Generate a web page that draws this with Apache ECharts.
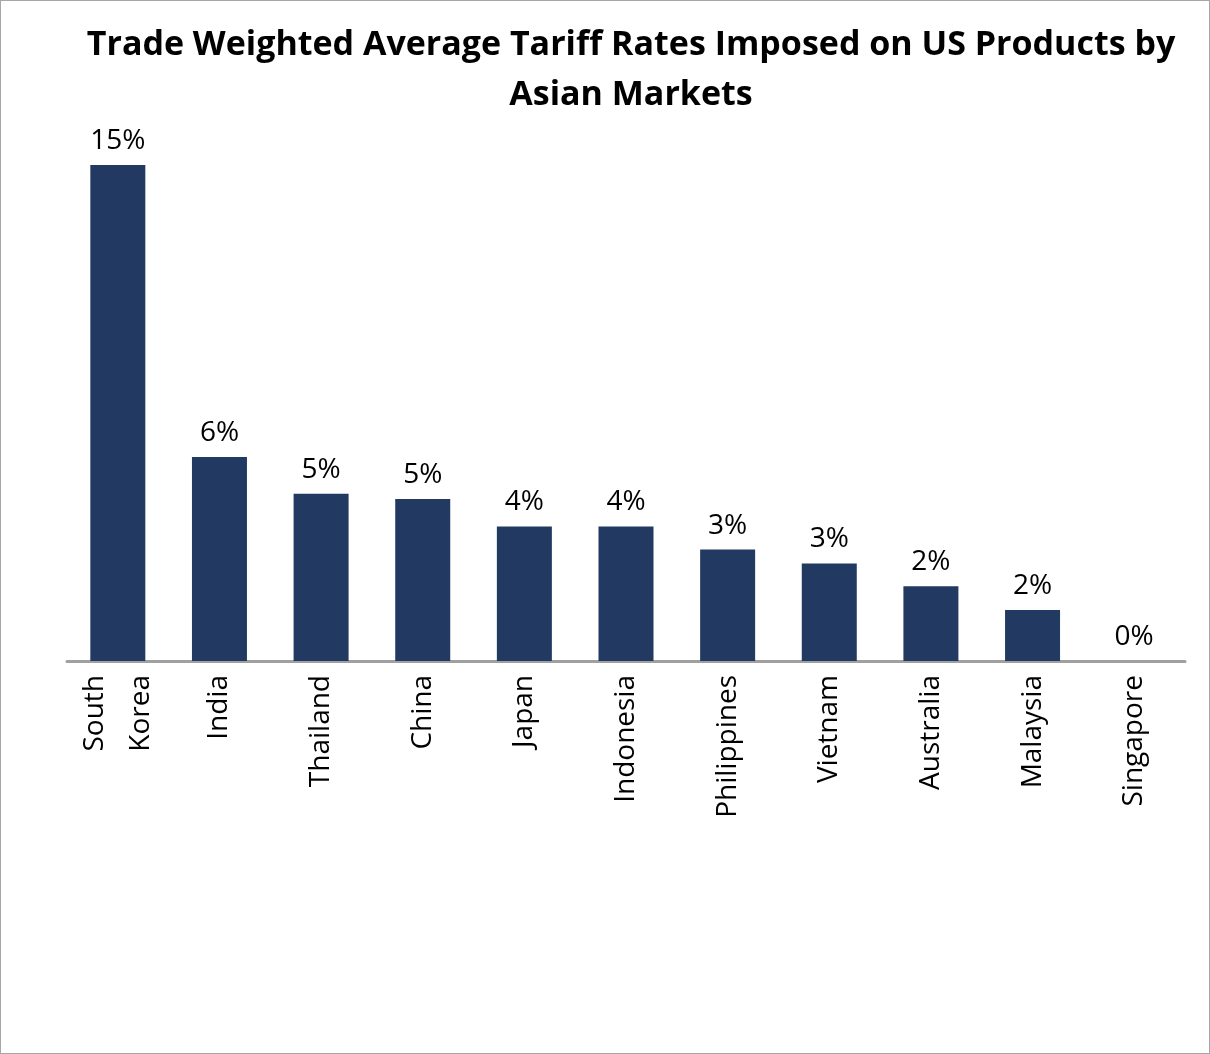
<!DOCTYPE html>
<html><head><meta charset="utf-8">
<script src="https://cdn.jsdelivr.net/npm/echarts@6/dist/echarts.min.js"></script>
<style>html,body{margin:0;padding:0;background:#fff}#c{width:1210px;height:1054px;box-sizing:border-box;border:1.5px solid #a6a6a6}</style>
</head><body><div id="c"></div>
<script>
const categories = ["South\nKorea","India","Thailand","China","Japan","Indonesia","Philippines","Vietnam","Australia","Malaysia","Singapore"];
const values = [15, 6.17, 5.06, 4.9, 4.07, 4.07, 3.37, 2.95, 2.26, 1.54, 0];
const chart = echarts.init(document.getElementById('c'));
chart.setOption({
  title: {text: "Trade Weighted Average Tariff Rates Imposed on US Products by\nAsian Markets", left: 625, textAlign: 'center', top: 14,
    textStyle: {fontFamily: 'Open Sans', fontWeight: 'bold', fontSize: 34, lineHeight: 50, color: '#000'}},
  grid: {left: 66, right: 24, top: 164, bottom: 392},
  xAxis: {type: 'category', data: categories,
    axisLine: {lineStyle: {color: '#a0a0a0', width: 3}}, axisTick: {show: false},
    axisLabel: {rotate: 90, fontFamily: 'Open Sans', fontSize: 28, color: '#000', margin: 14, lineHeight: 46, interval: 0}},
  yAxis: {type: 'value', min: 0, max: 15, show: false, splitLine: {show: false}},
  series: [{type: 'bar', data: values, barWidth: 55, itemStyle: {color: '#223962'},
    label: {show: true, position: 'top', distance: 10, fontFamily: 'Open Sans', fontSize: 28, color: '#000',
      formatter: p => Math.round(p.value) + '%'}}]
});
</script></body></html>
